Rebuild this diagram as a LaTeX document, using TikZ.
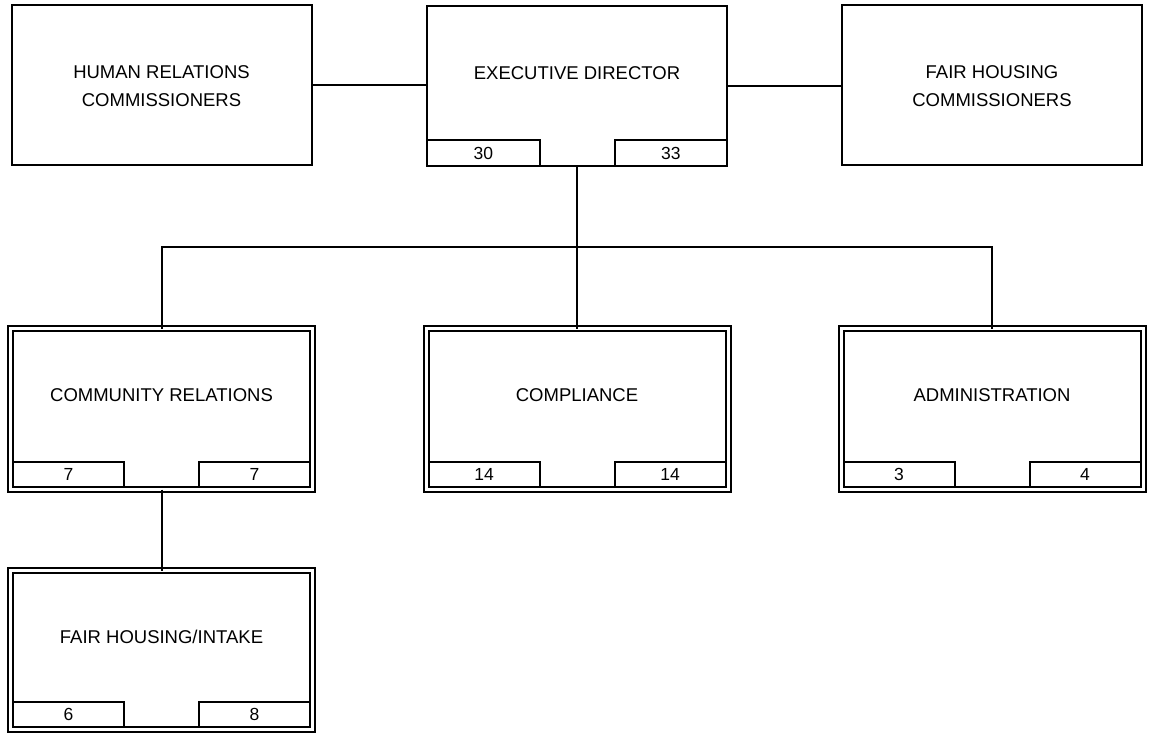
\documentclass[tikz,border=0pt]{standalone}
\usepackage{fontspec}
\setmainfont{Liberation Sans}
\begin{document}
\begin{tikzpicture}[x=1pt,y=-1pt,
  every node/.style={inner sep=0pt, outer sep=0pt},
  plainbox/.style={draw, line width=2pt, rectangle, minimum width=300pt, minimum height=160pt},
  unitbox/.style={draw, line width=2pt, double, double distance=3pt, rectangle,
    minimum width=302pt, minimum height=161pt},
  countbox/.style={draw, line width=2pt, rectangle, minimum width=111pt, minimum height=25pt,
    font=\fontsize{17.5}{19}\selectfont},
  title/.style={font=\fontsize{18.5}{28}\selectfont, align=center},
  link/.style={line width=2pt}]
\useasboundingbox (0,0) rectangle (1151,735);

% top row
\node[plainbox] (hr) at (161.5,85.5) {};
\node[title] (hr-t) at (161.5,86) {HUMAN RELATIONS\\COMMISSIONERS};

\node[plainbox] (exec) at (577,86) {};
\node[title] (exec-t) at (577,73) {EXECUTIVE DIRECTOR};
\node[countbox, minimum width=112.5pt, minimum height=26pt, anchor=south west] (exec-l) at (exec.south west) {30};
\node[countbox, minimum width=112.5pt, minimum height=26pt, anchor=south east] (exec-r) at (exec.south east) {33};

\node[plainbox] (fh) at (992,85.5) {};
\node[title] (fh-t) at (992,86) {FAIR HOUSING\\COMMISSIONERS};

% divisions
\node[unitbox] (cr) at (161.5,409) {};
\node[title] (cr-t) at (161.5,395) {COMMUNITY RELATIONS};
\node[countbox, anchor=south west] (cr-l) at ([xshift=2.5pt,yshift=2.5pt]cr.south west) {7};
\node[countbox, anchor=south east] (cr-r) at ([xshift=-2.5pt,yshift=2.5pt]cr.south east) {7};

\node[unitbox] (comp) at (577,409) {};
\node[title] (comp-t) at (577,395) {COMPLIANCE};
\node[countbox, anchor=south west] (comp-l) at ([xshift=2.5pt,yshift=2.5pt]comp.south west) {14};
\node[countbox, anchor=south east] (comp-r) at ([xshift=-2.5pt,yshift=2.5pt]comp.south east) {14};

\node[unitbox] (admin) at (992,409) {};
\node[title] (admin-t) at (992,395) {ADMINISTRATION};
\node[countbox, anchor=south west] (admin-l) at ([xshift=2.5pt,yshift=2.5pt]admin.south west) {3};
\node[countbox, anchor=south east] (admin-r) at ([xshift=-2.5pt,yshift=2.5pt]admin.south east) {4};

\node[unitbox, minimum height=159pt] (fhi) at (161.5,650) {};
\node[title] (fhi-t) at (161.5,637) {FAIR HOUSING/INTAKE};
\node[countbox, anchor=south west] (fhi-l) at ([xshift=2.5pt,yshift=2.5pt]fhi.south west) {6};
\node[countbox, anchor=south east] (fhi-r) at ([xshift=-2.5pt,yshift=2.5pt]fhi.south east) {8};

% connectors
\coordinate (bus) at (577,247);
\draw[link] (hr.east) -- (hr.east -| exec.west);
\draw[link] (exec.east) -- (exec.east -| fh.west);
\draw[link] (exec.south) -- (bus);
\draw[link] (cr.north) -- (cr.north |- bus) -- (admin.north |- bus) -- (admin.north);
\draw[link] (bus) -- (comp.north);
\draw[link] (cr.south) -- (fhi.north);
\end{tikzpicture}
\end{document}
